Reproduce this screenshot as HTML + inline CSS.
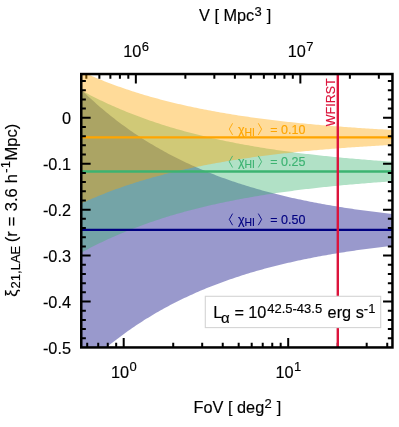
<!DOCTYPE html>
<html><head><meta charset="utf-8"><title>chart</title>
<style>html,body{margin:0;padding:0;background:#fff;}body{width:399px;height:427px;overflow:hidden;position:relative;font-family:"Liberation Sans",sans-serif;}</style></head>
<body>
<svg width="399" height="427" viewBox="0 0 399 427" style="position:absolute;left:0;top:0;will-change:transform" font-family="Liberation Sans, sans-serif">
<defs><clipPath id="c"><rect x="81.25" y="74.05" width="311.20" height="273.40"/></clipPath></defs>
<style>text{stroke:#000;stroke-width:0.15px}</style>
<rect x="0" y="0" width="399" height="427" fill="#fff"/>
<path d="M86.33,74.05v4.6 M337.72,347.45v-4.6" stroke="#000" stroke-width="2.0" fill="none"/>
<g clip-path="url(#c)">
<path d="M80.25,88.69 L82.25,90.66 L84.25,92.59 L86.25,94.50 L88.25,96.38 L90.25,98.24 L92.25,100.07 L94.25,101.87 L96.25,103.65 L98.25,105.41 L100.25,107.14 L102.25,108.84 L104.25,110.53 L106.25,112.19 L108.25,113.82 L110.25,115.44 L112.25,117.03 L114.25,118.60 L116.25,120.14 L118.25,121.67 L120.25,123.17 L122.25,124.66 L124.25,126.12 L126.25,127.56 L128.25,128.98 L130.25,130.39 L132.25,131.77 L134.25,133.13 L136.25,134.48 L138.25,135.81 L140.25,137.11 L142.25,138.40 L144.25,139.68 L146.25,140.93 L148.25,142.17 L150.25,143.39 L152.25,144.59 L154.25,145.77 L156.25,146.94 L158.25,148.10 L160.25,149.23 L162.25,150.35 L164.25,151.46 L166.25,152.55 L168.25,153.63 L170.25,154.69 L172.25,155.73 L174.25,156.76 L176.25,157.78 L178.25,158.78 L180.25,159.77 L182.25,160.75 L184.25,161.71 L186.25,162.65 L188.25,163.59 L190.25,164.51 L192.25,165.42 L194.25,166.32 L196.25,167.20 L198.25,168.07 L200.25,168.93 L202.25,169.78 L204.25,170.61 L206.25,171.44 L208.25,172.25 L210.25,173.05 L212.25,173.84 L214.25,174.62 L216.25,175.39 L218.25,176.15 L220.25,176.89 L222.25,177.63 L224.25,178.36 L226.25,179.07 L228.25,179.78 L230.25,180.48 L232.25,181.16 L234.25,181.84 L236.25,182.51 L238.25,183.17 L240.25,183.82 L242.25,184.46 L244.25,185.09 L246.25,185.71 L248.25,186.33 L250.25,186.93 L252.25,187.53 L254.25,188.12 L256.25,188.70 L258.25,189.27 L260.25,189.84 L262.25,190.39 L264.25,190.94 L266.25,191.48 L268.25,192.02 L270.25,192.55 L272.25,193.06 L274.25,193.58 L276.25,194.08 L278.25,194.58 L280.25,195.07 L282.25,195.55 L284.25,196.03 L286.25,196.50 L288.25,196.97 L290.25,197.42 L292.25,197.88 L294.25,198.32 L296.25,198.76 L298.25,199.19 L300.25,199.62 L302.25,200.04 L304.25,200.46 L306.25,200.86 L308.25,201.27 L310.25,201.67 L312.25,202.06 L314.25,202.45 L316.25,202.83 L318.25,203.20 L320.25,203.57 L322.25,203.94 L324.25,204.30 L326.25,204.66 L328.25,205.01 L330.25,205.35 L332.25,205.70 L334.25,206.03 L336.25,206.36 L338.25,206.69 L340.25,207.01 L342.25,207.33 L344.25,207.65 L346.25,207.95 L348.25,208.26 L350.25,208.56 L352.25,208.86 L354.25,209.15 L356.25,209.44 L358.25,209.72 L360.25,210.00 L362.25,210.28 L364.25,210.55 L366.25,210.82 L368.25,211.09 L370.25,211.35 L372.25,211.61 L374.25,211.86 L376.25,212.11 L378.25,212.36 L380.25,212.60 L382.25,212.84 L384.25,213.08 L386.25,213.31 L388.25,213.54 L390.25,213.77 L392.25,214.00 L394.25,214.22 L394.25,245.58 L392.25,245.80 L390.25,246.03 L388.25,246.26 L386.25,246.49 L384.25,246.72 L382.25,246.96 L380.25,247.20 L378.25,247.44 L376.25,247.69 L374.25,247.94 L372.25,248.19 L370.25,248.45 L368.25,248.71 L366.25,248.98 L364.25,249.25 L362.25,249.52 L360.25,249.80 L358.25,250.08 L356.25,250.36 L354.25,250.65 L352.25,250.94 L350.25,251.24 L348.25,251.54 L346.25,251.85 L344.25,252.15 L342.25,252.47 L340.25,252.79 L338.25,253.11 L336.25,253.44 L334.25,253.77 L332.25,254.10 L330.25,254.45 L328.25,254.79 L326.25,255.14 L324.25,255.50 L322.25,255.86 L320.25,256.23 L318.25,256.60 L316.25,256.97 L314.25,257.35 L312.25,257.74 L310.25,258.13 L308.25,258.53 L306.25,258.94 L304.25,259.34 L302.25,259.76 L300.25,260.18 L298.25,260.61 L296.25,261.04 L294.25,261.48 L292.25,261.92 L290.25,262.38 L288.25,262.83 L286.25,263.30 L284.25,263.77 L282.25,264.25 L280.25,264.73 L278.25,265.22 L276.25,265.72 L274.25,266.22 L272.25,266.74 L270.25,267.25 L268.25,267.78 L266.25,268.32 L264.25,268.86 L262.25,269.41 L260.25,269.96 L258.25,270.53 L256.25,271.10 L254.25,271.68 L252.25,272.27 L250.25,272.87 L248.25,273.47 L246.25,274.09 L244.25,274.71 L242.25,275.34 L240.25,275.98 L238.25,276.63 L236.25,277.29 L234.25,277.96 L232.25,278.64 L230.25,279.32 L228.25,280.02 L226.25,280.73 L224.25,281.44 L222.25,282.17 L220.25,282.91 L218.25,283.65 L216.25,284.41 L214.25,285.18 L212.25,285.96 L210.25,286.75 L208.25,287.55 L206.25,288.36 L204.25,289.19 L202.25,290.02 L200.25,290.87 L198.25,291.73 L196.25,292.60 L194.25,293.48 L192.25,294.38 L190.25,295.29 L188.25,296.21 L186.25,297.15 L184.25,298.09 L182.25,299.05 L180.25,300.03 L178.25,301.02 L176.25,302.02 L174.25,303.04 L172.25,304.07 L170.25,305.11 L168.25,306.17 L166.25,307.25 L164.25,308.34 L162.25,309.45 L160.25,310.57 L158.25,311.70 L156.25,312.86 L154.25,314.03 L152.25,315.21 L150.25,316.41 L148.25,317.63 L146.25,318.87 L144.25,320.12 L142.25,321.40 L140.25,322.69 L138.25,323.99 L136.25,325.32 L134.25,326.67 L132.25,328.03 L130.25,329.41 L128.25,330.82 L126.25,332.24 L124.25,333.68 L122.25,335.14 L120.25,336.63 L118.25,338.13 L116.25,339.66 L114.25,341.20 L112.25,342.77 L110.25,344.36 L108.25,345.98 L106.25,347.61 L104.25,349.27 L102.25,350.96 L100.25,352.66 L98.25,354.39 L96.25,356.15 L94.25,357.93 L92.25,359.73 L90.25,361.56 L88.25,363.42 L86.25,365.30 L84.25,367.21 L82.25,369.14 L80.25,371.11Z" fill="#000080" fill-opacity="0.4"/>
<path d="M80.25,89.76 L82.25,90.86 L84.25,91.95 L86.25,93.02 L88.25,94.08 L90.25,95.13 L92.25,96.16 L94.25,97.17 L96.25,98.17 L98.25,99.16 L100.25,100.14 L102.25,101.10 L104.25,102.05 L106.25,102.99 L108.25,103.91 L110.25,104.82 L112.25,105.72 L114.25,106.61 L116.25,107.48 L118.25,108.35 L120.25,109.20 L122.25,110.04 L124.25,110.87 L126.25,111.69 L128.25,112.49 L130.25,113.29 L132.25,114.07 L134.25,114.85 L136.25,115.61 L138.25,116.37 L140.25,117.11 L142.25,117.84 L144.25,118.57 L146.25,119.28 L148.25,119.98 L150.25,120.68 L152.25,121.36 L154.25,122.04 L156.25,122.71 L158.25,123.37 L160.25,124.01 L162.25,124.65 L164.25,125.29 L166.25,125.91 L168.25,126.52 L170.25,127.13 L172.25,127.73 L174.25,128.32 L176.25,128.90 L178.25,129.48 L180.25,130.04 L182.25,130.60 L184.25,131.15 L186.25,131.70 L188.25,132.23 L190.25,132.76 L192.25,133.29 L194.25,133.80 L196.25,134.31 L198.25,134.81 L200.25,135.31 L202.25,135.79 L204.25,136.28 L206.25,136.75 L208.25,137.22 L210.25,137.68 L212.25,138.14 L214.25,138.59 L216.25,139.03 L218.25,139.47 L220.25,139.90 L222.25,140.33 L224.25,140.75 L226.25,141.16 L228.25,141.57 L230.25,141.98 L232.25,142.37 L234.25,142.77 L236.25,143.15 L238.25,143.54 L240.25,143.91 L242.25,144.29 L244.25,144.65 L246.25,145.01 L248.25,145.37 L250.25,145.72 L252.25,146.07 L254.25,146.41 L256.25,146.75 L258.25,147.09 L260.25,147.42 L262.25,147.74 L264.25,148.06 L266.25,148.38 L268.25,148.69 L270.25,149.00 L272.25,149.30 L274.25,149.60 L276.25,149.89 L278.25,150.19 L280.25,150.47 L282.25,150.76 L284.25,151.04 L286.25,151.31 L288.25,151.59 L290.25,151.85 L292.25,152.12 L294.25,152.38 L296.25,152.64 L298.25,152.89 L300.25,153.14 L302.25,153.39 L304.25,153.63 L306.25,153.88 L308.25,154.11 L310.25,154.35 L312.25,154.58 L314.25,154.81 L316.25,155.03 L318.25,155.25 L320.25,155.47 L322.25,155.69 L324.25,155.90 L326.25,156.11 L328.25,156.32 L330.25,156.53 L332.25,156.73 L334.25,156.93 L336.25,157.12 L338.25,157.32 L340.25,157.51 L342.25,157.70 L344.25,157.88 L346.25,158.07 L348.25,158.25 L350.25,158.43 L352.25,158.60 L354.25,158.78 L356.25,158.95 L358.25,159.12 L360.25,159.28 L362.25,159.45 L364.25,159.61 L366.25,159.77 L368.25,159.93 L370.25,160.09 L372.25,160.24 L374.25,160.39 L376.25,160.54 L378.25,160.69 L380.25,160.84 L382.25,160.98 L384.25,161.12 L386.25,161.26 L388.25,161.40 L390.25,161.54 L392.25,161.67 L394.25,161.80 L394.25,181.20 L392.25,181.33 L390.25,181.46 L388.25,181.60 L386.25,181.74 L384.25,181.88 L382.25,182.02 L380.25,182.16 L378.25,182.31 L376.25,182.46 L374.25,182.61 L372.25,182.76 L370.25,182.91 L368.25,183.07 L366.25,183.23 L364.25,183.39 L362.25,183.55 L360.25,183.72 L358.25,183.88 L356.25,184.05 L354.25,184.22 L352.25,184.40 L350.25,184.57 L348.25,184.75 L346.25,184.93 L344.25,185.12 L342.25,185.30 L340.25,185.49 L338.25,185.68 L336.25,185.88 L334.25,186.07 L332.25,186.27 L330.25,186.47 L328.25,186.68 L326.25,186.89 L324.25,187.10 L322.25,187.31 L320.25,187.53 L318.25,187.75 L316.25,187.97 L314.25,188.19 L312.25,188.42 L310.25,188.65 L308.25,188.89 L306.25,189.12 L304.25,189.37 L302.25,189.61 L300.25,189.86 L298.25,190.11 L296.25,190.36 L294.25,190.62 L292.25,190.88 L290.25,191.15 L288.25,191.41 L286.25,191.69 L284.25,191.96 L282.25,192.24 L280.25,192.53 L278.25,192.81 L276.25,193.11 L274.25,193.40 L272.25,193.70 L270.25,194.00 L268.25,194.31 L266.25,194.62 L264.25,194.94 L262.25,195.26 L260.25,195.58 L258.25,195.91 L256.25,196.25 L254.25,196.59 L252.25,196.93 L250.25,197.28 L248.25,197.63 L246.25,197.99 L244.25,198.35 L242.25,198.71 L240.25,199.09 L238.25,199.46 L236.25,199.85 L234.25,200.23 L232.25,200.63 L230.25,201.02 L228.25,201.43 L226.25,201.84 L224.25,202.25 L222.25,202.67 L220.25,203.10 L218.25,203.53 L216.25,203.97 L214.25,204.41 L212.25,204.86 L210.25,205.32 L208.25,205.78 L206.25,206.25 L204.25,206.72 L202.25,207.21 L200.25,207.69 L198.25,208.19 L196.25,208.69 L194.25,209.20 L192.25,209.71 L190.25,210.24 L188.25,210.77 L186.25,211.30 L184.25,211.85 L182.25,212.40 L180.25,212.96 L178.25,213.52 L176.25,214.10 L174.25,214.68 L172.25,215.27 L170.25,215.87 L168.25,216.48 L166.25,217.09 L164.25,217.71 L162.25,218.35 L160.25,218.99 L158.25,219.63 L156.25,220.29 L154.25,220.96 L152.25,221.64 L150.25,222.32 L148.25,223.02 L146.25,223.72 L144.25,224.43 L142.25,225.16 L140.25,225.89 L138.25,226.63 L136.25,227.39 L134.25,228.15 L132.25,228.93 L130.25,229.71 L128.25,230.51 L126.25,231.31 L124.25,232.13 L122.25,232.96 L120.25,233.80 L118.25,234.65 L116.25,235.52 L114.25,236.39 L112.25,237.28 L110.25,238.18 L108.25,239.09 L106.25,240.01 L104.25,240.95 L102.25,241.90 L100.25,242.86 L98.25,243.84 L96.25,244.83 L94.25,245.83 L92.25,246.84 L90.25,247.87 L88.25,248.92 L86.25,249.98 L84.25,251.05 L82.25,252.14 L80.25,253.24Z" fill="#3cb371" fill-opacity="0.4"/>
<path d="M80.25,70.86 L82.25,71.79 L84.25,72.70 L86.25,73.60 L88.25,74.48 L90.25,75.36 L92.25,76.22 L94.25,77.07 L96.25,77.91 L98.25,78.74 L100.25,79.55 L102.25,80.36 L104.25,81.15 L106.25,81.93 L108.25,82.70 L110.25,83.46 L112.25,84.21 L114.25,84.95 L116.25,85.68 L118.25,86.40 L120.25,87.11 L122.25,87.81 L124.25,88.50 L126.25,89.18 L128.25,89.85 L130.25,90.51 L132.25,91.16 L134.25,91.80 L136.25,92.44 L138.25,93.06 L140.25,93.68 L142.25,94.28 L144.25,94.88 L146.25,95.48 L148.25,96.06 L150.25,96.63 L152.25,97.20 L154.25,97.76 L156.25,98.31 L158.25,98.85 L160.25,99.39 L162.25,99.92 L164.25,100.44 L166.25,100.95 L168.25,101.46 L170.25,101.96 L172.25,102.45 L174.25,102.94 L176.25,103.42 L178.25,103.89 L180.25,104.35 L182.25,104.81 L184.25,105.27 L186.25,105.71 L188.25,106.15 L190.25,106.59 L192.25,107.02 L194.25,107.44 L196.25,107.85 L198.25,108.26 L200.25,108.67 L202.25,109.07 L204.25,109.46 L206.25,109.85 L208.25,110.23 L210.25,110.61 L212.25,110.98 L214.25,111.35 L216.25,111.71 L218.25,112.07 L220.25,112.42 L222.25,112.77 L224.25,113.11 L226.25,113.45 L228.25,113.78 L230.25,114.11 L232.25,114.43 L234.25,114.75 L236.25,115.07 L238.25,115.38 L240.25,115.69 L242.25,115.99 L244.25,116.28 L246.25,116.58 L248.25,116.87 L250.25,117.15 L252.25,117.43 L254.25,117.71 L256.25,117.99 L258.25,118.26 L260.25,118.52 L262.25,118.78 L264.25,119.04 L266.25,119.30 L268.25,119.55 L270.25,119.80 L272.25,120.04 L274.25,120.28 L276.25,120.52 L278.25,120.76 L280.25,120.99 L282.25,121.22 L284.25,121.44 L286.25,121.66 L288.25,121.88 L290.25,122.10 L292.25,122.31 L294.25,122.52 L296.25,122.73 L298.25,122.93 L300.25,123.13 L302.25,123.33 L304.25,123.53 L306.25,123.72 L308.25,123.91 L310.25,124.10 L312.25,124.28 L314.25,124.46 L316.25,124.64 L318.25,124.82 L320.25,124.99 L322.25,125.17 L324.25,125.34 L326.25,125.51 L328.25,125.67 L330.25,125.83 L332.25,125.99 L334.25,126.15 L336.25,126.31 L338.25,126.46 L340.25,126.62 L342.25,126.77 L344.25,126.91 L346.25,127.06 L348.25,127.20 L350.25,127.34 L352.25,127.48 L354.25,127.62 L356.25,127.76 L358.25,127.89 L360.25,128.02 L362.25,128.15 L364.25,128.28 L366.25,128.41 L368.25,128.53 L370.25,128.66 L372.25,128.78 L374.25,128.90 L376.25,129.02 L378.25,129.13 L380.25,129.25 L382.25,129.36 L384.25,129.47 L386.25,129.58 L388.25,129.69 L390.25,129.80 L392.25,129.91 L394.25,130.01 L394.25,144.79 L392.25,144.89 L390.25,145.00 L388.25,145.11 L386.25,145.22 L384.25,145.33 L382.25,145.44 L380.25,145.55 L378.25,145.67 L376.25,145.78 L374.25,145.90 L372.25,146.02 L370.25,146.14 L368.25,146.27 L366.25,146.39 L364.25,146.52 L362.25,146.65 L360.25,146.78 L358.25,146.91 L356.25,147.04 L354.25,147.18 L352.25,147.32 L350.25,147.46 L348.25,147.60 L346.25,147.74 L344.25,147.89 L342.25,148.03 L340.25,148.18 L338.25,148.34 L336.25,148.49 L334.25,148.65 L332.25,148.81 L330.25,148.97 L328.25,149.13 L326.25,149.29 L324.25,149.46 L322.25,149.63 L320.25,149.81 L318.25,149.98 L316.25,150.16 L314.25,150.34 L312.25,150.52 L310.25,150.70 L308.25,150.89 L306.25,151.08 L304.25,151.27 L302.25,151.47 L300.25,151.67 L298.25,151.87 L296.25,152.07 L294.25,152.28 L292.25,152.49 L290.25,152.70 L288.25,152.92 L286.25,153.14 L284.25,153.36 L282.25,153.58 L280.25,153.81 L278.25,154.04 L276.25,154.28 L274.25,154.52 L272.25,154.76 L270.25,155.00 L268.25,155.25 L266.25,155.50 L264.25,155.76 L262.25,156.02 L260.25,156.28 L258.25,156.54 L256.25,156.81 L254.25,157.09 L252.25,157.37 L250.25,157.65 L248.25,157.93 L246.25,158.22 L244.25,158.52 L242.25,158.81 L240.25,159.11 L238.25,159.42 L236.25,159.73 L234.25,160.05 L232.25,160.37 L230.25,160.69 L228.25,161.02 L226.25,161.35 L224.25,161.69 L222.25,162.03 L220.25,162.38 L218.25,162.73 L216.25,163.09 L214.25,163.45 L212.25,163.82 L210.25,164.19 L208.25,164.57 L206.25,164.95 L204.25,165.34 L202.25,165.73 L200.25,166.13 L198.25,166.54 L196.25,166.95 L194.25,167.36 L192.25,167.78 L190.25,168.21 L188.25,168.65 L186.25,169.09 L184.25,169.53 L182.25,169.99 L180.25,170.45 L178.25,170.91 L176.25,171.38 L174.25,171.86 L172.25,172.35 L170.25,172.84 L168.25,173.34 L166.25,173.85 L164.25,174.36 L162.25,174.88 L160.25,175.41 L158.25,175.95 L156.25,176.49 L154.25,177.04 L152.25,177.60 L150.25,178.17 L148.25,178.74 L146.25,179.32 L144.25,179.92 L142.25,180.52 L140.25,181.12 L138.25,181.74 L136.25,182.36 L134.25,183.00 L132.25,183.64 L130.25,184.29 L128.25,184.95 L126.25,185.62 L124.25,186.30 L122.25,186.99 L120.25,187.69 L118.25,188.40 L116.25,189.12 L114.25,189.85 L112.25,190.59 L110.25,191.34 L108.25,192.10 L106.25,192.87 L104.25,193.65 L102.25,194.44 L100.25,195.25 L98.25,196.06 L96.25,196.89 L94.25,197.73 L92.25,198.58 L90.25,199.44 L88.25,200.32 L86.25,201.20 L84.25,202.10 L82.25,203.01 L80.25,203.94Z" fill="#ffa500" fill-opacity="0.4"/>
<line x1="81.25" x2="392.45" y1="229.9" y2="229.9" stroke="#000080" stroke-width="2.4"/>
<line x1="81.25" x2="392.45" y1="171.5" y2="171.5" stroke="#3cb371" stroke-width="2.4"/>
<line x1="81.25" x2="392.45" y1="137.4" y2="137.4" stroke="#ffa500" stroke-width="2.4"/>
<line x1="337.8" x2="337.8" y1="74.05" y2="347.45" stroke="#dc143c" stroke-width="2.4"/>
</g>
<g fill="#ffa500" font-size="12.5" style="stroke:#ffa500"><path d="M232.6,123.30 L229.3,129.10 L232.6,134.90" fill="none" stroke="#ffa500" stroke-width="0.9"/><path d="M258.3,123.30 L261.6,129.10 L258.3,134.90" fill="none" stroke="#ffa500" stroke-width="0.9"/><text x="238" y="133.7" style="stroke:#ffa500">χ</text><text x="244.5" y="135.79999999999998" font-size="10.4" style="stroke:#ffa500">HI</text><text x="270.3" y="133.7" style="stroke:#ffa500">= 0.10</text></g>
<g fill="#3cb371" font-size="12.5" style="stroke:#3cb371"><path d="M232.6,155.90 L229.3,161.70 L232.6,167.50" fill="none" stroke="#3cb371" stroke-width="0.9"/><path d="M258.3,155.90 L261.6,161.70 L258.3,167.50" fill="none" stroke="#3cb371" stroke-width="0.9"/><text x="238" y="166.3" style="stroke:#3cb371">χ</text><text x="244.5" y="168.4" font-size="10.4" style="stroke:#3cb371">HI</text><text x="270.3" y="166.3" style="stroke:#3cb371">= 0.25</text></g>
<g fill="#000080" font-size="12.5" style="stroke:#000080"><path d="M232.6,213.60 L229.3,219.40 L232.6,225.20" fill="none" stroke="#000080" stroke-width="0.9"/><path d="M258.3,213.60 L261.6,219.40 L258.3,225.20" fill="none" stroke="#000080" stroke-width="0.9"/><text x="238" y="224.0" style="stroke:#000080">χ</text><text x="244.5" y="226.1" font-size="10.4" style="stroke:#000080">HI</text><text x="270.3" y="224.0" style="stroke:#000080">= 0.50</text></g>
<text transform="translate(334.8,126.2) rotate(-90)" font-size="12.5" fill="#dc143c" style="stroke:#dc143c">WFIRST</text>
<rect x="205.3" y="296.3" width="175.4" height="31.3" fill="#fff" stroke="#d4d4d4" stroke-width="1.1"/>
<text y="318.1" font-size="16.3"><tspan x="213.2">L</tspan><tspan x="221.0" dy="4.4" font-size="15">α</tspan><tspan x="234.4" dy="-4.4">=</tspan><tspan x="248.2">10</tspan><tspan x="267.2" dy="-5.5" font-size="13">42.5-43.5</tspan><tspan x="327.6" dy="5.5">erg s</tspan><tspan dy="-5.5" font-size="13">-1</tspan></text>
<path d="M81.25,81.06h4.6 M392.45,81.06h-4.6 M81.25,90.24h4.6 M392.45,90.24h-4.6 M81.25,99.43h4.6 M392.45,99.43h-4.6 M81.25,108.61h4.6 M392.45,108.61h-4.6 M81.25,117.80h9.4 M392.45,117.80h-9.4 M81.25,126.99h4.6 M392.45,126.99h-4.6 M81.25,136.17h4.6 M392.45,136.17h-4.6 M81.25,145.36h4.6 M392.45,145.36h-4.6 M81.25,154.54h4.6 M392.45,154.54h-4.6 M81.25,163.73h9.4 M392.45,163.73h-9.4 M81.25,172.92h4.6 M392.45,172.92h-4.6 M81.25,182.10h4.6 M392.45,182.10h-4.6 M81.25,191.29h4.6 M392.45,191.29h-4.6 M81.25,200.47h4.6 M392.45,200.47h-4.6 M81.25,209.66h9.4 M392.45,209.66h-9.4 M81.25,218.85h4.6 M392.45,218.85h-4.6 M81.25,228.03h4.6 M392.45,228.03h-4.6 M81.25,237.22h4.6 M392.45,237.22h-4.6 M81.25,246.40h4.6 M392.45,246.40h-4.6 M81.25,255.59h9.4 M392.45,255.59h-9.4 M81.25,264.78h4.6 M392.45,264.78h-4.6 M81.25,273.96h4.6 M392.45,273.96h-4.6 M81.25,283.15h4.6 M392.45,283.15h-4.6 M81.25,292.33h4.6 M392.45,292.33h-4.6 M81.25,301.52h9.4 M392.45,301.52h-9.4 M81.25,310.71h4.6 M392.45,310.71h-4.6 M81.25,319.89h4.6 M392.45,319.89h-4.6 M81.25,329.08h4.6 M392.45,329.08h-4.6 M81.25,338.26h4.6 M392.45,338.26h-4.6 M87.21,347.45v-4.6 M98.22,347.45v-4.6 M107.76,347.45v-4.6 M116.17,347.45v-4.6 M123.70,347.45v-9.4 M173.22,347.45v-4.6 M202.19,347.45v-4.6 M222.74,347.45v-4.6 M238.68,347.45v-4.6 M251.71,347.45v-4.6 M262.72,347.45v-4.6 M272.26,347.45v-4.6 M280.67,347.45v-4.6 M288.20,347.45v-9.4 M366.69,347.45v-4.6 M387.24,347.45v-4.6 M99.36,74.05v4.6 M110.37,74.05v4.6 M119.91,74.05v4.6 M128.32,74.05v4.6 M135.85,74.05v9.4 M185.37,74.05v4.6 M214.34,74.05v4.6 M234.89,74.05v4.6 M250.83,74.05v4.6 M263.86,74.05v4.6 M274.87,74.05v4.6 M284.41,74.05v4.6 M292.82,74.05v4.6 M300.35,74.05v9.4 M349.87,74.05v4.6 M378.84,74.05v4.6" stroke="#000" stroke-width="2.0" fill="none"/>
<rect x="81.25" y="74.05" width="311.20" height="273.40" fill="none" stroke="#000" stroke-width="2.5"/>
<text x="71" y="124.1" font-size="16.3" text-anchor="end">0</text>
<text x="71" y="170.0" font-size="16.3" text-anchor="end">-0.1</text>
<text x="71" y="216.0" font-size="16.3" text-anchor="end">-0.2</text>
<text x="71" y="261.9" font-size="16.3" text-anchor="end">-0.3</text>
<text x="71" y="307.8" font-size="16.3" text-anchor="end">-0.4</text>
<text x="71" y="353.8" font-size="16.3" text-anchor="end">-0.5</text>
<text x="120.10" y="377.6" font-size="16.3" text-anchor="middle">10</text><text x="129.50" y="371.40000000000003" font-size="13">0</text>
<text x="284.60" y="377.6" font-size="16.3" text-anchor="middle">10</text><text x="294.00" y="371.40000000000003" font-size="13">1</text>
<text x="132.25" y="56.9" font-size="16.3" text-anchor="middle">10</text><text x="141.65" y="50.699999999999996" font-size="13">6</text>
<text x="296.75" y="56.9" font-size="16.3" text-anchor="middle">10</text><text x="306.15" y="50.699999999999996" font-size="13">7</text>
<text x="199" y="21.3" font-size="16.3">V [ Mpc<tspan dy="-5.4" dx="0.4" font-size="13">3</tspan><tspan dy="5.4" dx="0.3"> ]</tspan></text>
<text x="193.6" y="413.4" font-size="16.3">FoV [ deg<tspan dy="-5.3" dx="0.4" font-size="13">2</tspan><tspan dy="5.3" dx="0.4"> ]</tspan></text>
<g transform="translate(17.40,0) rotate(-90)">
<text x="-296.80" y="0" font-size="16.5">ξ</text>
<text x="-288.40" y="2.6" font-size="13">21,LAE</text>
<text x="-242.20" y="0" font-size="16.5">(r</text>
<text x="-226.30" y="0" font-size="16.5">=</text>
<text x="-211.20" y="0" font-size="16.5">3.6</text>
<text x="-183.30" y="0" font-size="16.5">h</text>
<text x="-172.70" y="-7.2" font-size="13">-1</text>
<text x="-160.40" y="0" font-size="16.5">Mpc)</text>
</g>
</svg>
</body></html>
